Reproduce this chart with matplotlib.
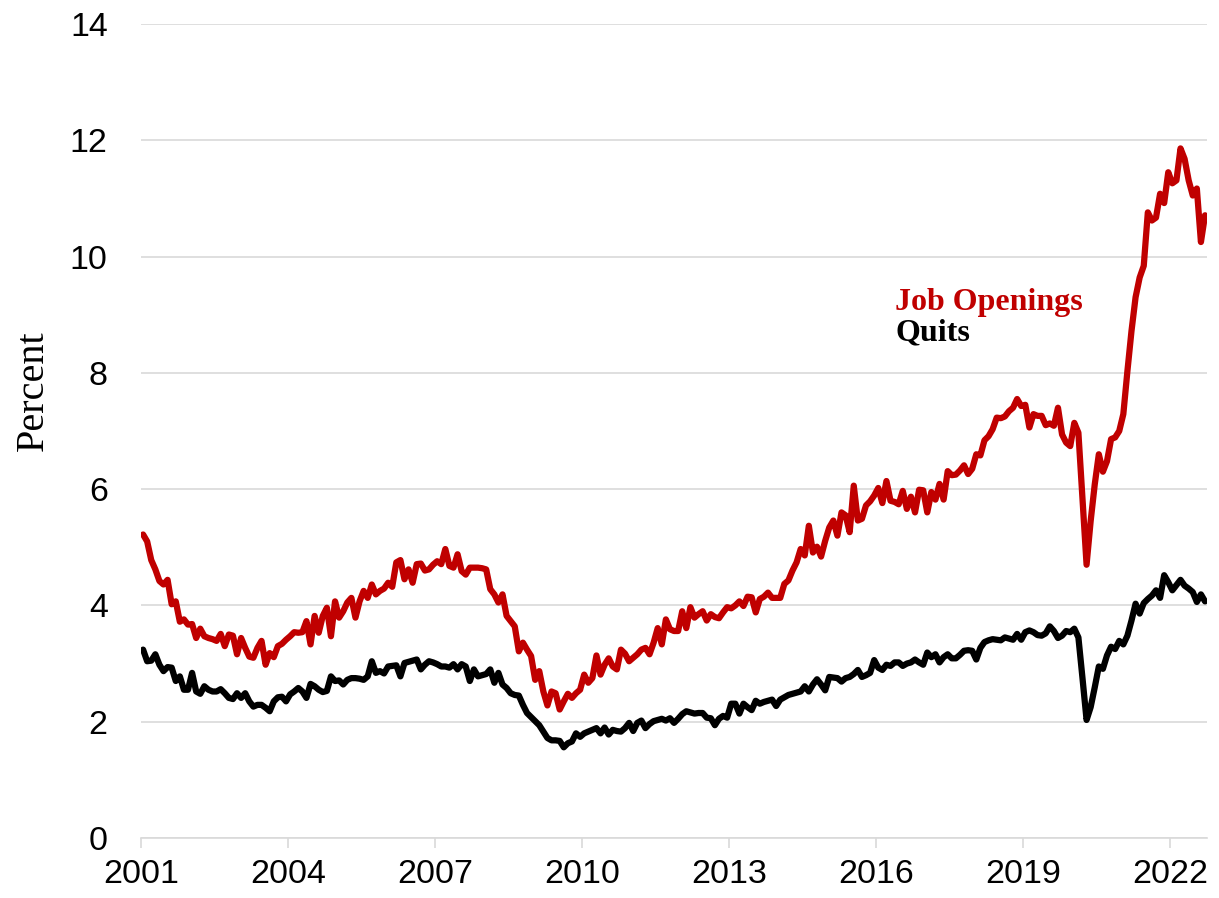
import numpy as np
import pandas as pd
import matplotlib
matplotlib.use("Agg")
import matplotlib.pyplot as plt

# monthly values, Jan 2001 - Sep 2022
job_openings = [
    5.22, 5.10, 4.78, 4.62, 4.42, 4.36, 4.44, 4.02, 4.07, 3.72, 3.76, 3.67,  # 2001
    3.68, 3.44, 3.60, 3.47, 3.44, 3.42, 3.39, 3.51, 3.30, 3.50, 3.48, 3.16,  # 2002
    3.44, 3.27, 3.12, 3.10, 3.27, 3.39, 2.98, 3.18, 3.11, 3.30, 3.34, 3.41,  # 2003
    3.47, 3.54, 3.53, 3.54, 3.73, 3.33, 3.82, 3.53, 3.82, 3.96, 3.47, 4.07,  # 2004
    3.79, 3.90, 4.05, 4.13, 3.79, 4.07, 4.25, 4.13, 4.36, 4.19, 4.25, 4.29,  # 2005
    4.39, 4.32, 4.74, 4.78, 4.45, 4.62, 4.39, 4.71, 4.72, 4.60, 4.62, 4.70,  # 2006
    4.76, 4.71, 4.97, 4.68, 4.65, 4.88, 4.59, 4.53, 4.65, 4.65, 4.65, 4.64,  # 2007
    4.62, 4.28, 4.19, 4.05, 4.19, 3.82, 3.73, 3.64, 3.21, 3.36, 3.24, 3.13,  # 2008
    2.72, 2.87, 2.52, 2.28, 2.52, 2.49, 2.21, 2.35, 2.48, 2.41, 2.49, 2.55,  # 2009
    2.81, 2.67, 2.75, 3.14, 2.81, 2.98, 3.09, 2.95, 2.90, 3.24, 3.17, 3.04,  # 2010
    3.10, 3.16, 3.24, 3.27, 3.16, 3.36, 3.61, 3.33, 3.76, 3.59, 3.56, 3.56,  # 2011
    3.90, 3.61, 3.97, 3.79, 3.85, 3.90, 3.74, 3.85, 3.80, 3.78, 3.88, 3.97,  # 2012
    3.95, 4.00, 4.07, 3.99, 4.15, 4.14, 3.88, 4.11, 4.15, 4.22, 4.13, 4.13,  # 2013
    4.13, 4.37, 4.43, 4.60, 4.74, 4.97, 4.86, 5.37, 4.91, 5.01, 4.84, 5.11,  # 2014
    5.34, 5.46, 5.20, 5.60, 5.55, 5.26, 6.06, 5.46, 5.49, 5.72, 5.79, 5.89,  # 2015
    6.02, 5.76, 6.14, 5.80, 5.78, 5.74, 5.97, 5.66, 5.87, 5.60, 5.99, 5.98,  # 2016
    5.60, 5.95, 5.82, 6.09, 5.82, 6.31, 6.24, 6.25, 6.32, 6.41, 6.26, 6.35,  # 2017
    6.60, 6.58, 6.84, 6.91, 7.03, 7.23, 7.22, 7.25, 7.34, 7.40, 7.55, 7.43,  # 2018
    7.45, 7.06, 7.29, 7.26, 7.26, 7.10, 7.13, 7.09, 7.40, 6.94, 6.80, 6.74,  # 2019
    7.14, 6.97, 5.85, 4.70, 5.45, 6.08, 6.60, 6.30, 6.48, 6.86, 6.89, 7.00,  # 2020
    7.29, 8.03, 8.72, 9.30, 9.64, 9.84, 10.76, 10.62, 10.67, 11.08, 10.92, 11.45,  # 2021
    11.26, 11.31, 11.86, 11.68, 11.31, 11.05, 11.17, 10.25, 10.71,  # 2022
]

quits = [
    3.24, 3.04, 3.05, 3.16, 2.98, 2.87, 2.94, 2.93, 2.70, 2.78, 2.55, 2.55,  # 2001
    2.84, 2.52, 2.48, 2.61, 2.55, 2.52, 2.52, 2.56, 2.49, 2.41, 2.39, 2.49,  # 2002
    2.41, 2.49, 2.35, 2.26, 2.29, 2.29, 2.24, 2.18, 2.35, 2.42, 2.43, 2.35,  # 2003
    2.47, 2.52, 2.58, 2.52, 2.41, 2.65, 2.61, 2.55, 2.51, 2.53, 2.78, 2.70,  # 2004
    2.71, 2.64, 2.72, 2.75, 2.75, 2.74, 2.72, 2.78, 3.04, 2.84, 2.87, 2.83,  # 2005
    2.95, 2.96, 2.97, 2.78, 3.01, 3.03, 3.05, 3.07, 2.90, 2.98, 3.04, 3.02,  # 2006
    2.99, 2.95, 2.95, 2.93, 2.99, 2.90, 2.99, 2.95, 2.70, 2.90, 2.78, 2.80,  # 2007
    2.82, 2.90, 2.67, 2.84, 2.64, 2.58, 2.49, 2.46, 2.45, 2.29, 2.15, 2.08,  # 2008
    2.01, 1.94, 1.83, 1.72, 1.68, 1.68, 1.67, 1.56, 1.63, 1.66, 1.80, 1.74,  # 2009
    1.80, 1.83, 1.86, 1.89, 1.80, 1.90, 1.78, 1.86, 1.84, 1.83, 1.89, 1.98,  # 2010
    1.84, 1.98, 2.02, 1.89, 1.96, 2.01, 2.03, 2.05, 2.02, 2.06, 1.98, 2.05,  # 2011
    2.13, 2.18, 2.16, 2.14, 2.15, 2.15, 2.07, 2.06, 1.94, 2.05, 2.10, 2.07,  # 2012
    2.31, 2.31, 2.14, 2.31, 2.25, 2.20, 2.36, 2.31, 2.34, 2.36, 2.38, 2.27,  # 2013
    2.38, 2.42, 2.46, 2.48, 2.50, 2.52, 2.61, 2.52, 2.64, 2.73, 2.64, 2.54,  # 2014
    2.77, 2.76, 2.75, 2.69, 2.75, 2.77, 2.82, 2.89, 2.77, 2.80, 2.84, 3.06,  # 2015
    2.93, 2.89, 2.98, 2.96, 3.02, 3.02, 2.96, 3.00, 3.02, 3.07, 3.02, 2.98,  # 2016
    3.19, 3.11, 3.16, 3.02, 3.11, 3.16, 3.09, 3.09, 3.15, 3.22, 3.23, 3.22,  # 2017
    3.07, 3.27, 3.37, 3.40, 3.42, 3.41, 3.40, 3.45, 3.43, 3.41, 3.51, 3.41,  # 2018
    3.54, 3.57, 3.54, 3.49, 3.48, 3.52, 3.64, 3.56, 3.44, 3.48, 3.56, 3.54,  # 2019
    3.60, 3.45, 2.75, 2.03, 2.25, 2.59, 2.95, 2.91, 3.14, 3.29, 3.25, 3.39,  # 2020
    3.33, 3.48, 3.74, 4.03, 3.86, 4.04, 4.11, 4.17, 4.26, 4.13, 4.52, 4.40,  # 2021
    4.26, 4.35, 4.44, 4.34, 4.29, 4.23, 4.06, 4.19, 4.07,  # 2022
]

year_ticks = [2001, 2004, 2007, 2010, 2013, 2016, 2019, 2022]
y_ticks = [0, 2, 4, 6, 8, 10, 12, 14]

RED = "#c00000"
GRID = "#d9d9d9"

dates = pd.date_range("2001-01-01", periods=len(job_openings), freq="MS")
x = dates.year + (dates.month - 0.5) / 12.0

fig = plt.figure(figsize=(12.19, 8.98), dpi=100)
ax = fig.add_axes([0.1157, 0.0668, 0.8745, 0.9065])

ax.plot(x, job_openings, color=RED, linewidth=4.5, solid_joinstyle="round",
        solid_capstyle="round", zorder=3)
ax.plot(x, quits, color="black", linewidth=4.5, solid_joinstyle="round",
        solid_capstyle="round", zorder=3)

ax.set_xlim(2001, 2001 + len(job_openings) / 12.0)
ax.set_ylim(0, 14)
ax.set_yticks(y_ticks)
ax.set_xticks(year_ticks)
ax.set_xticklabels([str(y) for y in year_ticks])

ax.yaxis.grid(True, color=GRID, linewidth=1.2)
ax.set_axisbelow(True)
for side in ["left", "right", "top"]:
    ax.spines[side].set_visible(False)
ax.spines["bottom"].set_color(GRID)
ax.spines["bottom"].set_linewidth(1.2)

ax.tick_params(axis="y", length=0, pad=24, labelsize=24.5)
ax.tick_params(axis="x", direction="out", length=7, width=1.2, color=GRID,
               pad=8, labelsize=24.5)
for lab in ax.get_xticklabels() + ax.get_yticklabels():
    lab.set_fontfamily("Liberation Sans")

ax.set_ylabel("Percent", fontfamily="Liberation Serif", fontsize=29)
ax.yaxis.set_label_coords(-0.084, 0.549)

ax.text(2016.39, 9.08, "Job Openings", color=RED, fontfamily="Liberation Serif",
        fontweight="bold", fontsize=23, va="baseline", ha="left")
ax.text(2016.39, 8.56, "Quits", color="black", fontfamily="Liberation Serif",
        fontweight="bold", fontsize=23, va="baseline", ha="left")

fig.savefig("out.png", dpi=100)
